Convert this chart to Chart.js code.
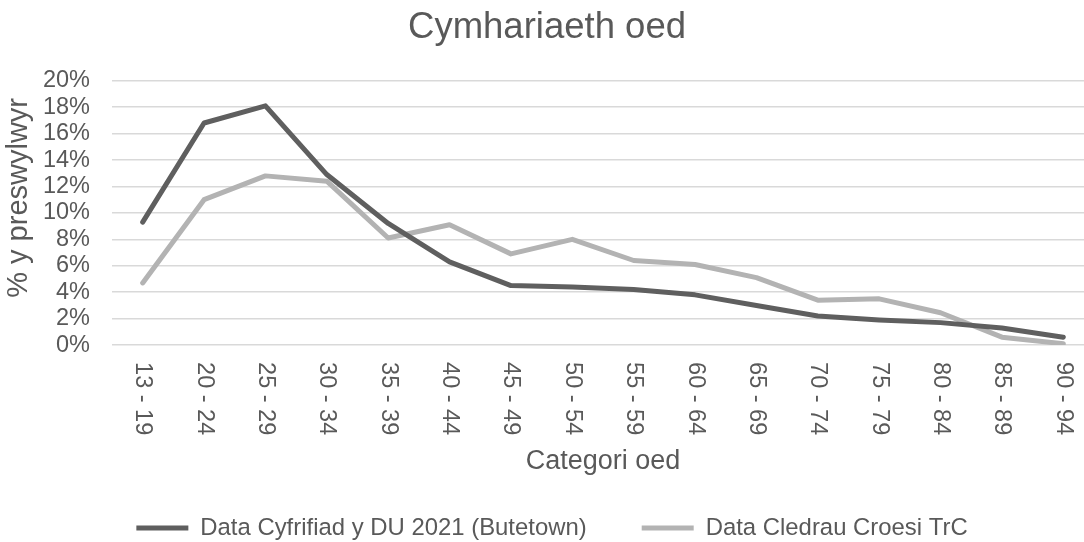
<!DOCTYPE html>
<html>
<head>
<meta charset="utf-8">
<script src="https://cdn.jsdelivr.net/npm/chart.js@4"></script>
<style>
  html, body { margin: 0; padding: 0; background: #ffffff; overflow: hidden; width: 1084px; height: 542px; }
  #wrap { width: 1094px; height: 550px; }
</style>
</head>
<body>
<div id="wrap"><canvas id="c" width="1094" height="550"></canvas></div>
<script>
const categories = ['13 - 19', '20 - 24', '25 - 29', '30 - 34', '35 - 39', '40 - 44', '45 - 49', '50 - 54',
                    '55 - 59', '60 - 64', '65 - 69', '70 - 74', '75 - 79', '80 - 84', '85 - 89', '90 - 94'];
const censusValues   = [9.3, 16.8, 18.1, 12.9, 9.2, 6.3, 4.5, 4.4, 4.2, 3.8, 3.0, 2.2, 1.9, 1.7, 1.3, 0.6];
const crossingValues = [4.7, 11.0, 12.8, 12.4, 8.1, 9.1, 6.9, 8.0, 6.4, 6.1, 5.1, 3.4, 3.5, 2.45, 0.6, 0.1];
const seriesNames = ['Data Cyfrifiad y DU 2021 (Butetown)', 'Data Cledrau Croesi TrC'];
const chartTitle = 'Cymhariaeth oed';
const xTitle = 'Categori oed';
const yTitle = '% y preswylwyr';

const FONT = '"Liberation Sans", Arial, sans-serif';
const TEXT = '#595959';
const Y_TITLE_LIFT = 30;

const rotatedXLabels = {
  id: 'rotatedXLabels',
  afterLayout(chart) {
    chart.legend.left += 5;
    chart.legend.right += 5;
  },
  beforeDraw(chart) {
    // lift the y-axis title slightly above the plot's vertical centre (as in the original)
    chart.scales.y.bottom -= Y_TITLE_LIFT;
  },
  beforeDatasetsDraw(chart) {
    chart.scales.y.bottom += Y_TITLE_LIFT;
  },
  afterDraw(chart) {
    const xs = chart.scales.x;
    const ctx = chart.ctx;
    ctx.save();
    ctx.font = '23.5px ' + FONT;
    ctx.fillStyle = TEXT;
    ctx.textAlign = 'left';
    ctx.textBaseline = 'middle';
    categories.forEach((lab, i) => {
      const x = xs.getPixelForTick(i);
      ctx.save();
      ctx.translate(x, xs.top + 17);
      ctx.rotate(Math.PI / 2);
      ctx.fillText(lab, 0, 0);
      ctx.restore();
    });
    ctx.restore();
  }
};

new Chart(document.getElementById('c'), {
  type: 'line',
  data: {
    labels: categories,
    datasets: [
      { label: seriesNames[0], data: censusValues, borderColor: '#5f5f5f', backgroundColor: '#5f5f5f',
        borderWidth: 5, pointRadius: 0, tension: 0, borderCapStyle: 'round', borderJoinStyle: 'round', fill: false },
      { label: seriesNames[1], data: crossingValues, borderColor: '#b3b3b3', backgroundColor: '#b3b3b3',
        borderWidth: 5, pointRadius: 0, tension: 0, borderCapStyle: 'round', borderJoinStyle: 'round', fill: false }
    ]
  },
  options: {
    responsive: false,
    animation: false,
    devicePixelRatio: 1,
    layout: { padding: 0 },
    plugins: {
      title: {
        display: true, text: chartTitle, color: TEXT,
        font: { family: FONT, size: 36.5, weight: 'normal', lineHeight: 1.2 },
        padding: { top: 5.6, bottom: 31.3 }
      },
      legend: {
        position: 'bottom',
        labels: {
          color: TEXT, font: { family: FONT, size: 23.9 },
          usePointStyle: true, pointStyle: 'line', pointStyleWidth: 52, padding: 55
        }
      },
      tooltip: { enabled: false }
    },
    scales: {
      x: {
        offset: true,
        grid: { display: false },
        border: { display: false },
        ticks: { display: false },
        title: { display: true, text: xTitle, color: TEXT,
                 font: { family: FONT, size: 27, lineHeight: 1.2 }, padding: { top: 0, bottom: -16.2 } },
        afterFit(s) { s.height = 116; }
      },
      y: {
        min: 0, max: 20,
        grid: { color: '#d9d9d9', lineWidth: 1.5, drawTicks: false },
        border: { display: false },
        ticks: { stepSize: 2, autoSkip: false, padding: 22, color: TEXT, font: { family: FONT, size: 23.5 },
                 callback: v => v + '%' },
        title: { display: true, text: yTitle, color: TEXT,
                 font: { family: FONT, size: 29, lineHeight: 1.2 }, padding: { top: 2, bottom: 0 } },
        afterFit(s) { s.width = 112; }
      }
    }
  },
  plugins: [rotatedXLabels]
});
</script>
</body>
</html>
